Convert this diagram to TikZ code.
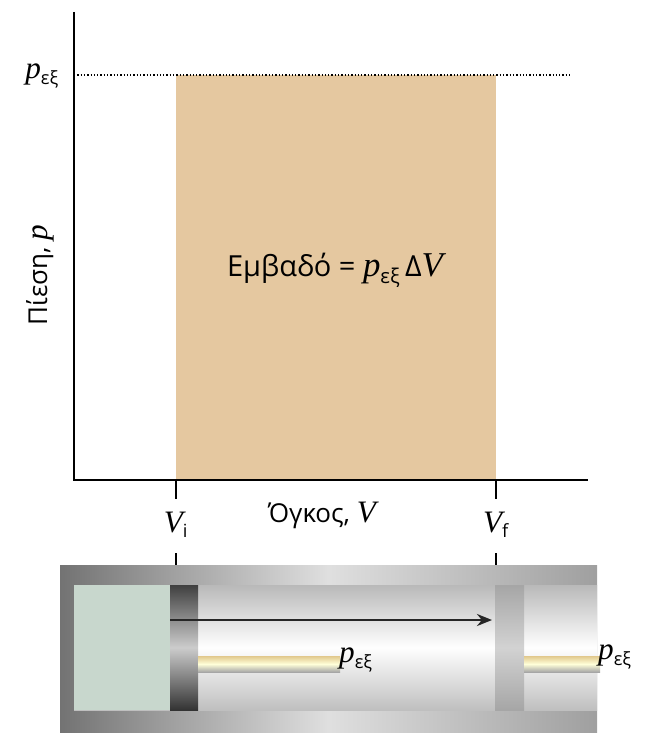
\documentclass[tikz,border=0pt]{standalone}
\usepackage{fontspec}
\setmainfont{Open Sans}
\newfontfamily\serif[Scale=1.2]{Liberation Serif}
\usetikzlibrary{arrows.meta}
\definecolor{area}{RGB}{229,200,160}
\definecolor{gas}{RGB}{200,215,205}
\definecolor{brass}{RGB}{225,200,140}
\newcommand{\pvar}{{\serif\itshape p}}
\newcommand{\pex}{\pvar\textsubscript{εξ}}
\tikzset{
	% axis and tick lines
	axis line/.style={line width=2.6pt,black},
	tick line/.style={line width=2.6pt,black},
	rod/.style={top color=brass,bottom color=gray!70,middle color=yellow!15!white},
	lab/.style={font=\fontsize{26}{30}\selectfont,inner sep=1pt}
}
\begin{document}
\begin{tikzpicture}[x=1pt,y=-1pt]
\useasboundingbox (0,0) rectangle (658,754);

% shaded work area
\fill[area] (176,75) rectangle (496,480);
\draw[dotted,line width=1.3pt] (74,75) -- (570,75);

% axes
\coordinate (o) at (74,480);
\coordinate (ytop) at (74,12);
\coordinate (xend) at (588,480);
\draw[axis line] (ytop) -- (o) -- (xend);

% ticks
\draw[tick line] (176,480) -- (176,499) (176,553) -- (176,566);
\draw[tick line] (496,480) -- (496,499) (496,553) -- (496,566);

% labels
\node[lab] (pe) at (42,76) {\pex};
\node[lab,rotate=90] (ylab) at (40,275) {Πίεση, \pvar};
\node[lab] (xlab) at (322,515) {Όγκος, {\serif\itshape V}};
\node[lab] (vi) at (176,525) {{\serif\itshape V}\textsubscript{i}};
\node[lab] (vf) at (496,525) {{\serif\itshape V}\textsubscript{f}};
\node[lab,font=\fontsize{29}{32}\selectfont] (arealab) at (335,270) {Εμβαδό = \pex\,Δ{\serif\itshape V}};

% cylinder
\shade[left color=gray!90!black,right color=gray!75,middle color=gray!25] (60,565) rectangle (597,732);
\shade[top color=gray!55,bottom color=gray!50,middle color=white] (74,585) rectangle (597,710);
\fill[gas] (74,585) rectangle (170,710);
\shade[top color=black!75,bottom color=black!80,middle color=gray!40] (170,585) rectangle (198,710);
\shade[top color=gray!70,bottom color=gray!70,middle color=gray!35] (495,585) rectangle (524,710);
\shade[rod] (198,656) rectangle (340,672);
\shade[rod] (524,656) rectangle (600,672);

% piston travel
\coordinate (a0) at (170,620);
\coordinate (a1) at (492,620);
\draw[-{Stealth[length=15pt,width=12pt]},line width=2.6pt,black!85] (a0) -- (a1);
\node[lab,anchor=west] (pr1) at (338,660) {\pex};
\node[lab,anchor=west] (pr2) at (597,657) {\pex};
\end{tikzpicture}
\end{document}
